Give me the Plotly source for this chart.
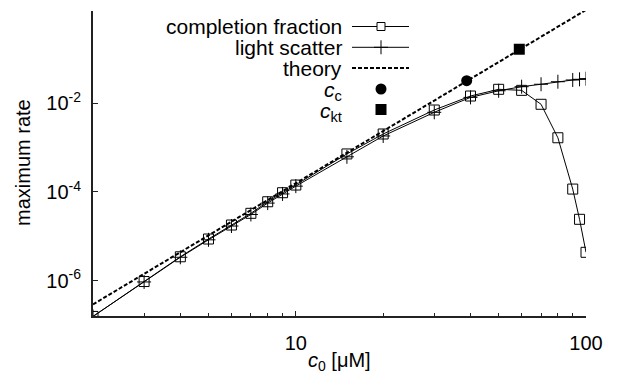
import plotly.graph_objects as go

# ---- data ----
c0_completion = [2, 3, 4, 5, 6, 7, 8, 9, 10, 15, 20, 30, 40, 50, 60, 70, 80, 90, 95, 100]
rate_completion = [1.55e-7, 9.5e-7, 3.44e-6, 8.65e-6, 1.79e-5, 3.29e-5, 6.0e-5, 9.6e-5, 1.43e-4,
                   7.2e-4, 2.03e-3, 7.06e-3, 1.46e-2, 2.07e-2, 1.96e-2, 9.5e-3, 1.67e-3,
                   1.16e-4, 2.41e-5, 4.34e-6]

c0_scatter = [2, 3, 4, 5, 6, 7, 8, 9, 10, 15, 20, 30, 40, 50, 60, 70, 80, 90, 95, 100]
rate_scatter = [1.55e-7, 9.3e-7, 3.35e-6, 8.3e-6, 1.7e-5, 3.1e-5, 5.6e-5, 9.0e-5, 1.35e-4,
                6.2e-4, 1.83e-3, 6.26e-3, 1.36e-2, 1.92e-2, 2.37e-2, 2.69e-2, 3.07e-2,
                3.36e-2, 3.48e-2, 3.59e-2]

c0_theory = [2, 100]
rate_theory = [2.9e-7, 1.28]

c_c = [38.8]
rate_c_c = [3.24e-2]
c_kt = [58.9]
rate_c_kt = [0.166]

x_major_ticks = [10, 100]
x_major_labels = ["10", "100"]
x_minor_ticks = [3, 4, 5, 6, 7, 8, 9, 20, 30, 40, 50, 60, 70, 80, 90]
y_ticks = [1e-6, 1e-4, 1e-2]
y_labels = ["10<sup>-6</sup>", "10<sup>-4</sup>", "10<sup>-2</sup>"]

legend_names = ["completion fraction", "light scatter", "theory",
                "<i>c</i><sub>c</sub>", "<i>c</i><sub>kt</sub>"]

# ---- figure ----
FONT = "Liberation Sans, Arial, Helvetica, sans-serif"
AX = "#222222"
W, H = 618, 382
L, R, T, B = 93, 32, 11, 66

fig = go.Figure()

fig.add_trace(go.Scatter(x=c0_theory, y=rate_theory, mode="lines",
                         line=dict(color="black", width=2, dash="4px,2px"),
                         showlegend=False, cliponaxis=True))
fig.add_trace(go.Scatter(x=c0_scatter, y=rate_scatter, mode="lines+markers",
                         line=dict(color="black", width=1),
                         marker=dict(symbol="cross-thin", size=10,
                                     line=dict(color="black", width=1)),
                         showlegend=False))
fig.add_trace(go.Scatter(x=c0_completion, y=rate_completion, mode="lines+markers",
                         line=dict(color="black", width=1),
                         marker=dict(symbol="square-open", size=10, color="black",
                                     line=dict(color="black", width=1)),
                         showlegend=False))
fig.add_trace(go.Scatter(x=c_c, y=rate_c_c, mode="markers",
                         marker=dict(symbol="circle", size=11, color="black"),
                         showlegend=False))
fig.add_trace(go.Scatter(x=c_kt, y=rate_c_kt, mode="markers",
                         marker=dict(symbol="square", size=11, color="black"),
                         showlegend=False))

# ---- manual gnuplot-style legend on an overlay axis (0..1 of plot area) ----
pw, ph = W - L - R, H - T - B
def fx(px):
    return (px - L) / pw
def fy(py):
    return (H - B - py) / ph

row_y = [26.5, 47.3, 68.0, 89.0, 109.5]
text_dy = [0, 0, 0, 2, 2]
x0s, x1s, xm = fx(352), fx(409), fx(381)
text_x = fx(344)

fig.add_trace(go.Scatter(x=[x0s, xm, x1s], y=[fy(row_y[0])] * 3, mode="lines",
                         line=dict(color="black", width=1), xaxis="x2", yaxis="y2",
                         showlegend=False, hoverinfo="skip"))
fig.add_trace(go.Scatter(x=[xm], y=[fy(row_y[0])], mode="markers",
                         marker=dict(symbol="square", size=8, color="white",
                                     line=dict(color="black", width=1)),
                         xaxis="x2", yaxis="y2", showlegend=False, hoverinfo="skip"))
fig.add_trace(go.Scatter(x=[x0s, xm, x1s], y=[fy(row_y[1])] * 3, mode="lines",
                         line=dict(color="black", width=1), xaxis="x2", yaxis="y2",
                         showlegend=False, hoverinfo="skip"))
fig.add_trace(go.Scatter(x=[xm], y=[fy(row_y[1])], mode="markers",
                         marker=dict(symbol="cross-thin", size=10,
                                     line=dict(color="black", width=1)),
                         xaxis="x2", yaxis="y2", showlegend=False, hoverinfo="skip"))
fig.add_trace(go.Scatter(x=[x0s, x1s], y=[fy(row_y[2])] * 2, mode="lines",
                         line=dict(color="black", width=2, dash="4px,2px"),
                         xaxis="x2", yaxis="y2", showlegend=False, hoverinfo="skip"))
fig.add_trace(go.Scatter(x=[xm], y=[fy(row_y[3])], mode="markers",
                         marker=dict(symbol="circle", size=11, color="black"),
                         xaxis="x2", yaxis="y2", showlegend=False, hoverinfo="skip"))
fig.add_trace(go.Scatter(x=[xm], y=[fy(row_y[4])], mode="markers",
                         marker=dict(symbol="square", size=11, color="black"),
                         xaxis="x2", yaxis="y2", showlegend=False, hoverinfo="skip"))

annotations = []
for name, ry, dy in zip(legend_names, row_y, text_dy):
    annotations.append(dict(x=text_x, y=fy(ry + dy), xref="paper", yref="paper",
                            text=name, showarrow=False, xanchor="right", yanchor="middle",
                            font=dict(family=FONT, size=21, color="black")))

# axis titles
annotations.append(dict(x=0.5, y=fy(361), xref="paper", yref="paper",
                        text="<i>c</i><sub>0</sub> [μM]", showarrow=False,
                        xanchor="center", yanchor="middle",
                        font=dict(family=FONT, size=20, color="black")))
annotations.append(dict(x=fx(23), y=fy(163), xref="paper", yref="paper",
                        text="maximum rate", showarrow=False, textangle=-90,
                        xanchor="center", yanchor="middle",
                        font=dict(family=FONT, size=20, color="black")))

fig.update_layout(
    width=W, height=H,
    margin=dict(l=L, r=R, t=T, b=B),
    plot_bgcolor="white", paper_bgcolor="white",
    font=dict(family=FONT, size=20, color="black"),
    annotations=annotations,
    xaxis=dict(type="log", range=[0.30103, 2.0], showgrid=False, zeroline=False,
               showline=True, linecolor=AX, linewidth=2, mirror=False,
               tickmode="array", tickvals=x_major_ticks, ticktext=x_major_labels,
               ticks="inside", ticklen=5, tickwidth=1, tickcolor=AX,
               ticklabelstandoff=8,
               tickfont=dict(family=FONT, size=20, color="black"),
               minor=dict(tickmode="array", tickvals=x_minor_ticks, ticks="inside",
                          ticklen=3, tickwidth=1, tickcolor=AX, showgrid=False)),
    yaxis=dict(type="log", range=[-6.80, 0.083], showgrid=False, zeroline=False,
               showline=True, linecolor=AX, linewidth=2, mirror=False,
               tickmode="array", tickvals=y_ticks, ticktext=y_labels,
               ticks="inside", ticklen=5, tickwidth=1, tickcolor=AX,
               ticklabelstandoff=6,
               tickfont=dict(family=FONT, size=20, color="black")),
    xaxis2=dict(range=[0, 1], overlaying="x", visible=False, fixedrange=True),
    yaxis2=dict(range=[0, 1], overlaying="y", visible=False, fixedrange=True),
)

fig.write_html("out.html", config={"displayModeBar": False},
               post_script="document.body.style.margin='0px';document.body.style.padding='0px';")
